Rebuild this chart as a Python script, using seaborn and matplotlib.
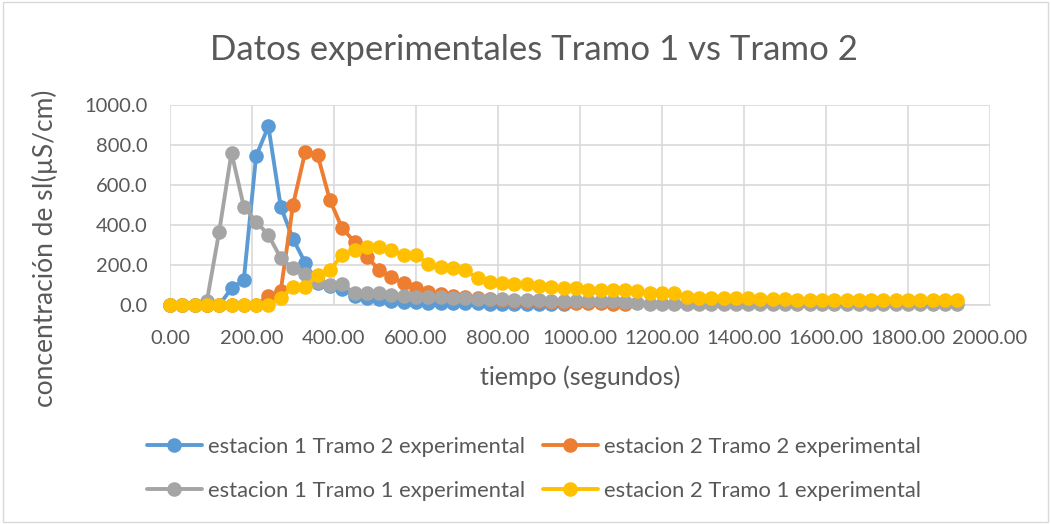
import numpy as np
import pandas as pd
import seaborn as sns
import matplotlib
matplotlib.use("Agg")
import matplotlib.pyplot as plt
from matplotlib.lines import Line2D
from matplotlib.ticker import FuncFormatter

# ---- data (seconds, µS/cm) ----
t_all = list(range(0, 1921, 30))

est1_tramo2 = [0, 0, 0, 0, 0, 83, 125, 745, 893, 492, 330, 210, 110, 95, 80, 45, 35, 30, 20, 15,
               15, 12, 10, 10, 8, 8, 5, 5, 5, 5, 3, 3, 3]
est2_tramo2 = [0, 0, 0, 0, 0, 0, 0, 0, 45, 70, 500, 767, 750, 525, 383, 317, 242, 175, 140, 108,
               83, 67, 55, 45, 40, 35, 30, 25, 22, 20, 18, 15, 12, 10, 8, 8, 5, 5]
est1_tramo1 = [0, 0, 0, 20, 367, 762, 492, 417, 350, 235, 183, 155, 117, 100, 105, 58, 58, 58, 50, 45,
               42, 40, 38, 35, 33, 30, 30, 28, 27, 25, 25, 22, 22, 20, 20, 20, 18, 17, 8, 5,
               4, 4, 4, 4, 4, 4, 4, 4, 4, 4, 4, 4, 4, 4, 4, 4, 4, 4, 4, 4, 4, 4, 4, 4, 4]
est2_tramo1 = [0, 0, 0, 0, 0, 0, 0, 0, 0, 33, 92, 92, 150, 175, 250, 275, 292, 292, 275, 250,
               250, 205, 192, 183, 175, 133, 115, 110, 105, 105, 95, 90, 85, 85, 77, 77, 77, 77, 70, 60,
               60, 58, 38, 36, 36, 36, 36, 35, 28, 28, 28, 27, 27, 27, 27, 27, 27, 27, 27, 27,
               27, 27, 27, 27, 26]

names = ["estacion 1 Tramo 2 experimental", "estacion 2 Tramo 2 experimental",
         "estacion 1 Tramo 1 experimental", "estacion 2 Tramo 1 experimental"]
series = [est1_tramo2, est2_tramo2, est1_tramo1, est2_tramo1]
colors = ["#5B9BD5", "#ED7D31", "#A5A5A5", "#FFC000"]

frames = []
for n, v in zip(names, series):
    frames.append(pd.DataFrame({"tiempo": t_all[:len(v)], "conc": v, "serie": n}))
df = pd.concat(frames, ignore_index=True)

sns.set_theme(style="white")
plt.rcParams["font.family"] = ["Lato", "DejaVu Sans"]
text_c = "#595959"

fig = plt.figure(figsize=(10.51, 5.24), dpi=100)
ax = fig.add_axes([170 / 1051, 1 - 305 / 524, 820 / 1051, 200 / 524])

for n, c in zip(names, colors):
    sub = df[df["serie"] == n]
    sns.lineplot(data=sub, x="tiempo", y="conc", ax=ax, color=c, linewidth=2.8,
                 marker="o", markersize=10.5, markeredgewidth=0, label=None, legend=False,
                 zorder=3, clip_on=False)

ax.set_xlim(0, 2000)
ax.set_ylim(0, 1000)
ax.set_xticks(np.arange(0, 2001, 200))
ax.set_yticks(np.arange(0, 1001, 200))
ax.xaxis.set_major_formatter(FuncFormatter(lambda v, p: f"{v:.2f}"))
ax.yaxis.set_major_formatter(FuncFormatter(lambda v, p: f"{v:.1f}"))
ax.grid(True, color="#D9D9D9", linewidth=1.2)
ax.set_axisbelow(True)
for s in ["top", "right", "left"]:
    ax.spines[s].set_visible(False)
ax.spines["bottom"].set_color("#D9D9D9")
ax.spines["bottom"].set_linewidth(1.2)
ax.tick_params(axis="both", length=0, labelsize=14.5, colors=text_c)
ax.tick_params(axis="x", pad=18)
ax.tick_params(axis="y", pad=16)

ax.set_xlabel("tiempo (segundos)", fontsize=18, color=text_c)
ax.xaxis.label.set_va("center")
ax.xaxis.set_label_coords(0.5, -0.36)
ax.set_ylabel("concentración de sI(µS/cm)", fontsize=19, color=text_c)
ax.yaxis.label.set_va("center")
ax.yaxis.set_label_coords((45 - 170) / 820, 0.285)

fig.text(534 / 1051, 1 - 50 / 524, "Datos experimentales Tramo 1 vs Tramo 2",
         ha="center", va="center", fontsize=25, color=text_c)

handles = [Line2D([0], [0], color=c, linewidth=2.8, marker="o", markersize=10.5, markeredgewidth=0)
           for c in colors]
order = [0, 2, 1, 3]
leg = fig.legend([handles[i] for i in order], [names[i] for i in order], ncol=2,
                 loc="center", bbox_to_anchor=(534 / 1051, 1 - 469 / 524), frameon=False,
                 fontsize=15.8, labelcolor=text_c, handlelength=2.5, columnspacing=0.8,
                 handletextpad=0.3, labelspacing=1.1)

fig.patches.append(plt.Rectangle((0.003, 0.003), 0.994, 0.994, transform=fig.transFigure,
                                 fill=False, edgecolor="#D9D9D9", linewidth=1))
fig.savefig("out.png", dpi=100, facecolor="white")
